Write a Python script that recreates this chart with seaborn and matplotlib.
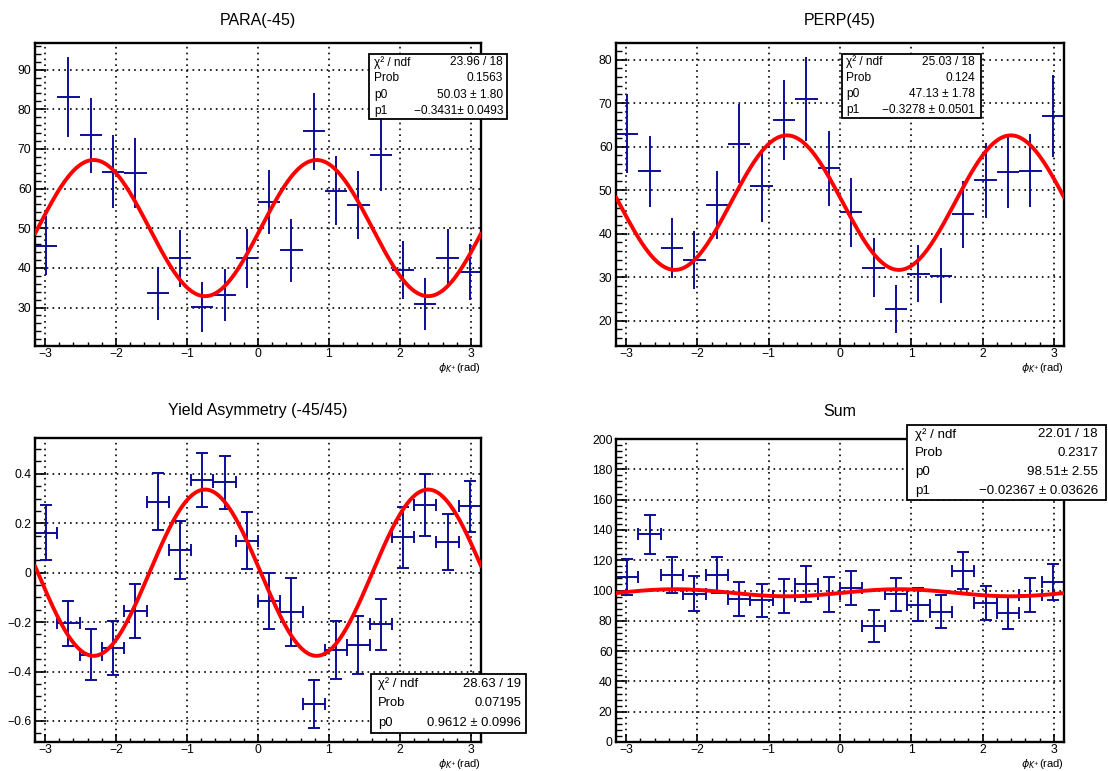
import numpy as np
import matplotlib
matplotlib.use("Agg")
import matplotlib.pyplot as plt
from matplotlib.patches import Rectangle
from matplotlib.ticker import MultipleLocator, FuncFormatter
import seaborn as sns

# ---------------------------------------------------------------- geometry
W, H = 1108, 771

# ---------------------------------------------------------------- binning
N_BINS = 20
PHI_EDGES = np.linspace(-np.pi, np.pi, N_BINS + 1)
PHI = 0.5 * (PHI_EDGES[:-1] + PHI_EDGES[1:])
PHI_HALF = 0.5 * (PHI_EDGES[1] - PHI_EDGES[0])

# ---------------------------------------------------------------- yields
PARA_Y = [45.6, 83.1, 73.4, 64.2, 63.9, 33.6, 42.4, 30.1, 33.2, 42.4,
          56.6, 44.4, 74.4, 59.5, 55.8, 68.4, 39.5, 30.9, 42.4, 38.9]
PARA_ERR = [7.5, 10.0, 9.5, 9.2, 8.9, 6.7, 7.2, 6.3, 6.6, 7.4,
            8.1, 7.9, 9.7, 8.8, 8.6, 9.1, 7.3, 6.5, 7.3, 7.1]

PERP_Y = [63.0, 54.3, 36.8, 34.0, 46.5, 60.7, 50.9, 66.1, 71.0, 55.0,
          44.9, 32.2, 22.7, 30.8, 30.3, 44.5, 52.3, 54.2, 54.5, 67.1]
PERP_ERR = [9.1, 8.2, 6.9, 6.7, 7.8, 9.0, 8.3, 9.1, 9.6, 8.6,
            8.0, 6.8, 5.4, 6.6, 6.3, 7.7, 8.6, 8.4, 8.3, 9.4]

ASYM_Y = [0.162, -0.205, -0.331, -0.304, -0.155, 0.288, 0.092, 0.376, 0.365, 0.130,
          -0.114, -0.158, -0.532, -0.314, -0.293, -0.209, 0.143, 0.274, 0.124, 0.268]
ASYM_ERR = [0.110, 0.092, 0.102, 0.110, 0.108, 0.116, 0.118, 0.110, 0.106, 0.116,
            0.113, 0.137, 0.098, 0.117, 0.118, 0.104, 0.122, 0.125, 0.115, 0.105]

SUM_Y = [108.8, 137.2, 110.1, 98.0, 110.4, 94.5, 93.4, 96.3, 104.4, 97.5,
         101.8, 76.7, 97.4, 90.7, 85.9, 113.0, 91.9, 85.2, 96.9, 105.9]
SUM_ERR = [11.8, 12.9, 11.8, 11.4, 11.9, 11.2, 11.2, 11.1, 11.8, 11.5,
           11.4, 10.5, 11.1, 11.0, 10.9, 12.1, 11.3, 10.8, 11.2, 11.9]

# ---------------------------------------------------------------- fit results
PARA_P0, PARA_P1 = 50.03, -0.3431
PERP_P0, PERP_P1 = 47.13, -0.3278
ASYM_P0 = 0.9612
SUM_P0, SUM_P1 = 98.51, -0.02367

PHOTON_POL = 0.35                 # degree of linear polarisation
ANGLE_OFFSET_DEG = 2.3            # small rotation of the polarisation plane
PHI_PARA = np.deg2rad(-45 + ANGLE_OFFSET_DEG)
PHI_PERP = np.deg2rad(45 + ANGLE_OFFSET_DEG)

BLUE = "#0d0d99"
RED = "#ff0000"

sns.set_theme(style="ticks")
plt.rcParams["font.family"] = ["Liberation Sans", "DejaVu Sans"]
plt.rcParams["axes.unicode_minus"] = True

fig = plt.figure(figsize=(W / 100, H / 100), dpi=100, facecolor="white")


def px_axes(left, top, right, bottom):
    return fig.add_axes([left / W, 1 - bottom / H, (right - left) / W, (bottom - top) / H])


def fmt(v, _pos=None):
    v = round(v, 6)
    if abs(v) < 1e-9:
        v = 0.0
    return ("%g" % v).replace("-", "\u2212")


def style_axes(ax, ylim, ymajor, yminor):
    ax.set_xlim(-np.pi, np.pi)
    ax.set_ylim(*ylim)
    ax.xaxis.set_major_locator(MultipleLocator(1))
    ax.xaxis.set_minor_locator(MultipleLocator(0.2))
    ax.yaxis.set_major_locator(MultipleLocator(ymajor))
    ax.yaxis.set_minor_locator(MultipleLocator(yminor))
    ax.xaxis.set_major_formatter(FuncFormatter(fmt))
    ax.yaxis.set_major_formatter(FuncFormatter(fmt))
    ax.tick_params(axis="x", which="major", direction="in", length=5.5, width=1.2,
                   pad=1.5, labelsize=8.8, bottom=True, top=False,
                   colors="black", labelcolor="black")
    ax.tick_params(axis="x", which="minor", direction="in", length=3, width=1.0,
                   bottom=True, top=False, colors="black")
    ax.tick_params(axis="y", which="major", direction="in", length=8, width=1.2,
                   pad=2.5, labelsize=8.8, left=True, right=False,
                   colors="black", labelcolor="black")
    ax.tick_params(axis="y", which="minor", direction="in", length=4, width=1.0,
                   left=True, right=False, colors="black")
    for s in ax.spines.values():
        s.set_linewidth(1.7)
        s.set_color("black")
        s.set_visible(True)
    ax.grid(True, which="major", color="black", linestyle=(0, (1, 2.5)), linewidth=1.2)
    ax.set_axisbelow(True)
    ax.set_xlabel("")
    ax.set_ylabel("")
    ax.set_facecolor("white")
    ax.text(1.0, -25 / 303, r"$\phi_{K^{+}}$(rad)", transform=ax.transAxes,
            ha="right", va="baseline", fontsize=8, color="black")


def draw_points(ax, y, err, caps):
    ax.errorbar(PHI, y, xerr=PHI_HALF, yerr=err, fmt="none", ecolor=BLUE,
                elinewidth=1.4, capsize=4.5 if caps else 0, capthick=1.4, zorder=2)


def draw_fit(ax, func):
    xs = np.linspace(-np.pi, np.pi, 500)
    sns.lineplot(x=xs, y=func(xs), ax=ax, color=RED, linewidth=2.8,
                 estimator=None, sort=False, zorder=3)


def stats_box(x0, y0, x1, y1, rows, size, inset_l=6, inset_r=5):
    fig.add_artist(Rectangle((x0 / W, 1 - y1 / H), (x1 - x0) / W, (y1 - y0) / H,
                             transform=fig.transFigure, facecolor="white",
                             edgecolor="black", linewidth=1.3, zorder=5))
    n = len(rows)
    step = (y1 - y0) / n
    for i, (lab, val) in enumerate(rows):
        yc = 1 - (y0 + (i + 0.5) * step) / H
        fig.text((x0 + inset_l) / W, yc, lab, ha="left", va="center",
                 fontsize=size, color="black", zorder=6)
        fig.text((x1 - inset_r) / W, yc, val, ha="right", va="center",
                 fontsize=size, color="black", zorder=6)


def title(xc, yc, text):
    fig.text(xc / W, 1 - yc / H, text, ha="center", va="center", fontsize=11.5,
             color="black")


# ---------------------------------------------------------------- PARA(-45)
ax1 = px_axes(35, 43, 481, 346)
draw_points(ax1, PARA_Y, PARA_ERR, caps=False)
draw_fit(ax1, lambda p: PARA_P0 * (1 + PARA_P1 * np.cos(2 * (p - PHI_PARA))))
style_axes(ax1, (20.3, 96.7), 10, 2)
title(258, 20, "PARA(-45)")
stats_box(369, 54, 507, 119,
          [("χ² / ndf", "23.96 / 18"), ("Prob", "0.1563"),
           ("p0", "50.03 ± 1.80"), ("p1", "\u22120.3431± 0.0493")], 8.6,
          inset_l=5, inset_r=4)

# ---------------------------------------------------------------- PERP(45)
ax2 = px_axes(616, 43, 1064, 346)
draw_points(ax2, PERP_Y, PERP_ERR, caps=False)
draw_fit(ax2, lambda p: PERP_P0 * (1 + PERP_P1 * np.cos(2 * (p - PHI_PERP))))
style_axes(ax2, (14.2, 83.8), 10, 2)
title(840, 20, "PERP(45)")
stats_box(842, 54, 981, 118,
          [("χ² / ndf", "25.03 / 18"), ("Prob", "0.124"),
           ("p0", "47.13 ± 1.78"), ("p1", "\u22120.3278 ± 0.0501")], 8.6,
          inset_l=4, inset_r=6)

# ---------------------------------------------------------------- asymmetry
ax3 = px_axes(35, 438, 481, 742)
draw_points(ax3, ASYM_Y, ASYM_ERR, caps=True)
draw_fit(ax3, lambda p: ASYM_P0 * PHOTON_POL * np.cos(2 * (p - PHI_PARA)))
style_axes(ax3, (-0.685, 0.545), 0.2, 0.05)
title(258, 411, "Yield Asymmetry (-45/45)")
stats_box(371, 674, 526, 733,
          [("χ² / ndf", "28.63 / 19"), ("Prob", "0.07195"),
           ("p0", "0.9612 ± 0.0996")], 9.4, inset_l=7, inset_r=5)

# ---------------------------------------------------------------- sum
ax4 = px_axes(616, 439, 1064, 742)
draw_points(ax4, SUM_Y, SUM_ERR, caps=True)
draw_fit(ax4, lambda p: SUM_P0 * (1 + SUM_P1 * np.cos(2 * (p - PHI_PARA))))
style_axes(ax4, (0, 200), 20, 4)
title(840, 411, "Sum")
stats_box(907, 425, 1106, 500,
          [("χ² / ndf", "22.01 / 18"), ("Prob", "0.2317"),
           ("p0", "98.51± 2.55"), ("p1", "\u22120.02367 ± 0.03626")], 9.6,
          inset_l=8, inset_r=8)

fig.savefig("out.png", dpi=100, facecolor="white")
